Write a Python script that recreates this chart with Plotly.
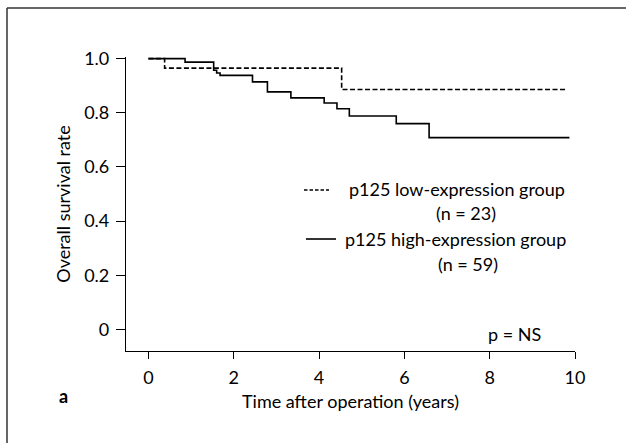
import plotly.graph_objects as go

# ---- data ----
low_t = [0.0, 0.38, 4.53, 9.78]
low_s = [1.0, 0.965, 0.886, 0.886]

high_t = [0.0, 0.86, 1.53, 1.60, 1.68, 2.44, 2.79, 3.34, 4.12, 4.42, 4.71, 5.81, 6.58, 9.87]
high_s = [1.0, 0.987, 0.957, 0.947, 0.938, 0.914, 0.877, 0.855, 0.836, 0.815, 0.788, 0.760, 0.708, 0.708]

x_ticks = [0, 2, 4, 6, 8, 10]
y_ticks = [0, 0.2, 0.4, 0.6, 0.8, 1.0]
y_ticklabels = ["0", "0.2", "0.4", "0.6", "0.8", "1.0"]

legend_low = "p125 low-expression group"
legend_low_n = "(n = 23)"
legend_high = "p125 high-expression group"
legend_high_n = "(n = 59)"
p_text = "p = NS"
panel_label = "<b>a</b>"
x_title = "Time after operation (years)"
y_title = "Overall survival rate"

FONT = "Lato"
FS = 18
W, H = 626, 443
ML, MR, MT, MB = 126, 51, 57, 92
PW, PH = W - ML - MR, H - MT - MB


def px(xp):
    return (xp - ML) / PW


def py(yp):
    return (H - MB - yp) / PH


fig = go.Figure()
fig.add_trace(go.Scatter(x=low_t, y=low_s, mode="lines", line_shape="hv",
                         line=dict(color="black", width=1.6, dash="5px,2.5px"),
                         showlegend=False, hoverinfo="skip"))
fig.add_trace(go.Scatter(x=high_t, y=high_s, mode="lines", line_shape="hv",
                         line=dict(color="black", width=1.6),
                         showlegend=False, hoverinfo="skip"))

fig.update_layout(
    width=W, height=H,
    margin=dict(l=ML, r=MR, t=MT, b=MB, pad=0),
    paper_bgcolor="white", plot_bgcolor="white",
    font=dict(family=FONT, size=FS, color="black"),
    showlegend=False,
    xaxis=dict(range=[-0.525, 10.0], tickvals=x_ticks, ticks="outside", ticklen=7,
               tickwidth=1, tickcolor="black", showline=True, linecolor="black",
               linewidth=1.2, showgrid=False, zeroline=False,
               tickfont=dict(size=FS), ticklabelstandoff=3,
               title=dict(text=x_title, font=dict(size=FS), standoff=8)),
    yaxis=dict(range=[-0.08, 1.006], tickvals=y_ticks, ticktext=y_ticklabels,
               ticks="outside", ticklen=9, tickwidth=1, tickcolor="black",
               showline=True, linecolor="black", linewidth=1.2, showgrid=False,
               zeroline=False, tickfont=dict(size=FS), ticklabelstandoff=3,
               title=dict(text=y_title, font=dict(size=FS), standoff=8)),
)

shapes = [
    # outer frame (top and left)
    dict(type="line", xref="paper", yref="paper", x0=px(7), x1=px(626), y0=py(8), y1=py(8),
         line=dict(color="#333", width=1.5)),
    dict(type="line", xref="paper", yref="paper", x0=px(7), x1=px(7), y0=py(8), y1=py(443),
         line=dict(color="#333", width=1.5)),
    # legend samples
    dict(type="line", xref="paper", yref="paper", x0=px(304), x1=px(329), y0=py(190), y1=py(190),
         line=dict(color="black", width=1.6, dash="3.5px,2px")),
    dict(type="line", xref="paper", yref="paper", x0=px(306), x1=px(336), y0=py(239), y1=py(239),
         line=dict(color="black", width=1.6)),
]
fig.update_layout(shapes=shapes)

ann = [
    dict(text=legend_low, x=px(347), y=py(189), xanchor="left", yanchor="middle"),
    dict(text=legend_low_n, x=px(466), y=py(213), xanchor="center", yanchor="middle"),
    dict(text=legend_high, x=px(343), y=py(239), xanchor="left", yanchor="middle"),
    dict(text=legend_high_n, x=px(468), y=py(264), xanchor="center", yanchor="middle"),
    dict(text=p_text, x=px(514), y=py(334), xanchor="center", yanchor="middle"),
    dict(text=panel_label, x=px(63), y=py(396), xanchor="center", yanchor="middle",
         font=dict(size=FS)),
]
for a in ann:
    a.update(xref="paper", yref="paper", showarrow=False)
    a.setdefault("font", dict(size=FS))
fig.update_layout(annotations=ann)

fig.write_html("out.html")
